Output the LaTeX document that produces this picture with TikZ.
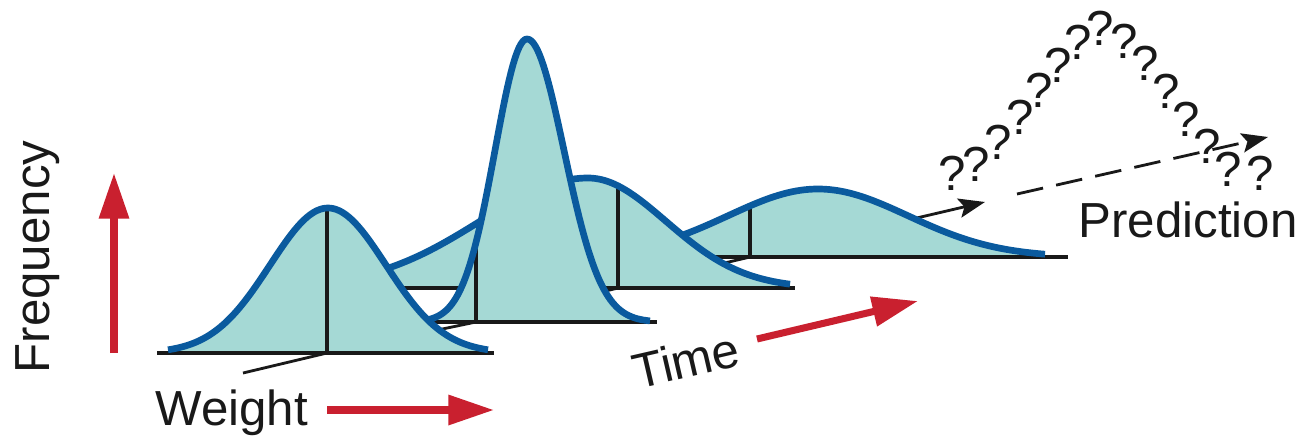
\documentclass[tikz,border=0pt]{standalone}
\usepackage{fontspec}
\setmainfont{Liberation Sans}
\usetikzlibrary{arrows.meta,positioning}

\begin{document}
\begin{tikzpicture}[x=0.01cm, y=-0.01cm, font=\fontsize{14}{16}\selectfont,
  bellline/.style={draw=zBlue, line width=1.9pt, line join=round},
  baseln/.style={draw=black!90, line width=1.05pt},
  axisln/.style={draw=black!90, line width=0.8pt},
  redarr/.style={draw=zRed, line width=2pt, -{Triangle[length=13pt,width=8.2pt]}},
  tip/.style={-{Stealth[length=7.5pt,width=5.5pt,inset=1.5pt]}},
  lbl/.style={inner sep=0pt, text=black!90},
]
\definecolor{zTeal}{HTML}{A5D9D5}\definecolor{zBlue}{HTML}{0A5A9E}\definecolor{zRed}{HTML}{C9202F}
\fill[white] (0,0) rectangle (1296,438);
\useasboundingbox (0,0) rectangle (1296,438);
% ---- time axis ----
\coordinate (t0) at (243,373);
\coordinate (tA) at (327,353);
\coordinate (tB) at (476,322);
\coordinate (tC) at (618,288);
\coordinate (tD) at (750,257);
\coordinate (tE) at (985,202);
\draw[axisln, tip] (t0) -- (tA) -- (tB) -- (tC) -- (tD) -- (tE);
\coordinate (p0) at (1017,194);
\coordinate (p1) at (1268,137);
\draw[axisln, tip, dash pattern=on 7.6pt off 3.8pt] (p0) -- (p1);
% ---- bells, back to front ----
\foreach \c/\h/\sl/\sr/\yb/\xa/\xe/\la/\le/\xm in {
  818/68/90/90/257/560/1045/560/1068/750,
  588/110/108/78/288/330/790/330/795/618,
  527/283/32/37/322/410/650/400/657/476,
  328/145/58/58/353/168/488/157/494/327}{
  \fill[zTeal] (\xa,\yb) -- plot[domain=\xa:\c, samples=60] (\x,{\yb-\h*exp(-0.5*((\x-\c)/\sl)^2)})
    -- plot[domain=\c:\xe, samples=60] (\x,{\yb-\h*exp(-0.5*((\x-\c)/\sr)^2)}) -- (\xe,\yb) -- cycle;
  \draw[baseln] (\la,\yb) -- (\le,\yb);
  \draw[baseln] (\xm,\yb) -- (\xm,{\yb-\h*exp(-0.5*((\xm-\c)/(\xm<\c ? \sl : \sr))^2)});
  \draw[bellline] plot[domain=\xa:\c, samples=60] (\x,{\yb-\h*exp(-0.5*((\x-\c)/\sl)^2)})
    -- plot[domain=\c:\xe, samples=60] (\x,{\yb-\h*exp(-0.5*((\x-\c)/\sr)^2)});
}
% ---- red arrows ----
\coordinate (f0) at (114,353);
\coordinate (f1) at (114,173);
\coordinate (w0) at (327,410);
\coordinate (w1) at (494,410);
\coordinate (m0) at (757,339);
\coordinate (m1) at (918,301);
\draw[redarr] (f0) -- (f1);
\draw[redarr] (w0) -- (w1);
\draw[redarr] (m0) -- (m1);
% ---- labels ----
\node[lbl, rotate=90, anchor=base] (freq) at (50,257) {Frequency};
\node[lbl, anchor=base west] (weight) at (155,425) {Weight};
\node[lbl, rotate=13] (time) at (686,360) {Time};
\node[lbl, anchor=base west] (pred) at (1078,237) {Prediction};
% question marks
\foreach \qx/\qy [count=\i] in {952/173, 976/164, 998/142, 1020/117, 1039/90, 1058/65, 1078/42,
  1100/28, 1124/41, 1145/63, 1166/91, 1186/119, 1207/146, 1228/169, 1260/173}
  \node[lbl] (q\i) at (\qx,\qy) {?};
\end{tikzpicture}
\end{document}
